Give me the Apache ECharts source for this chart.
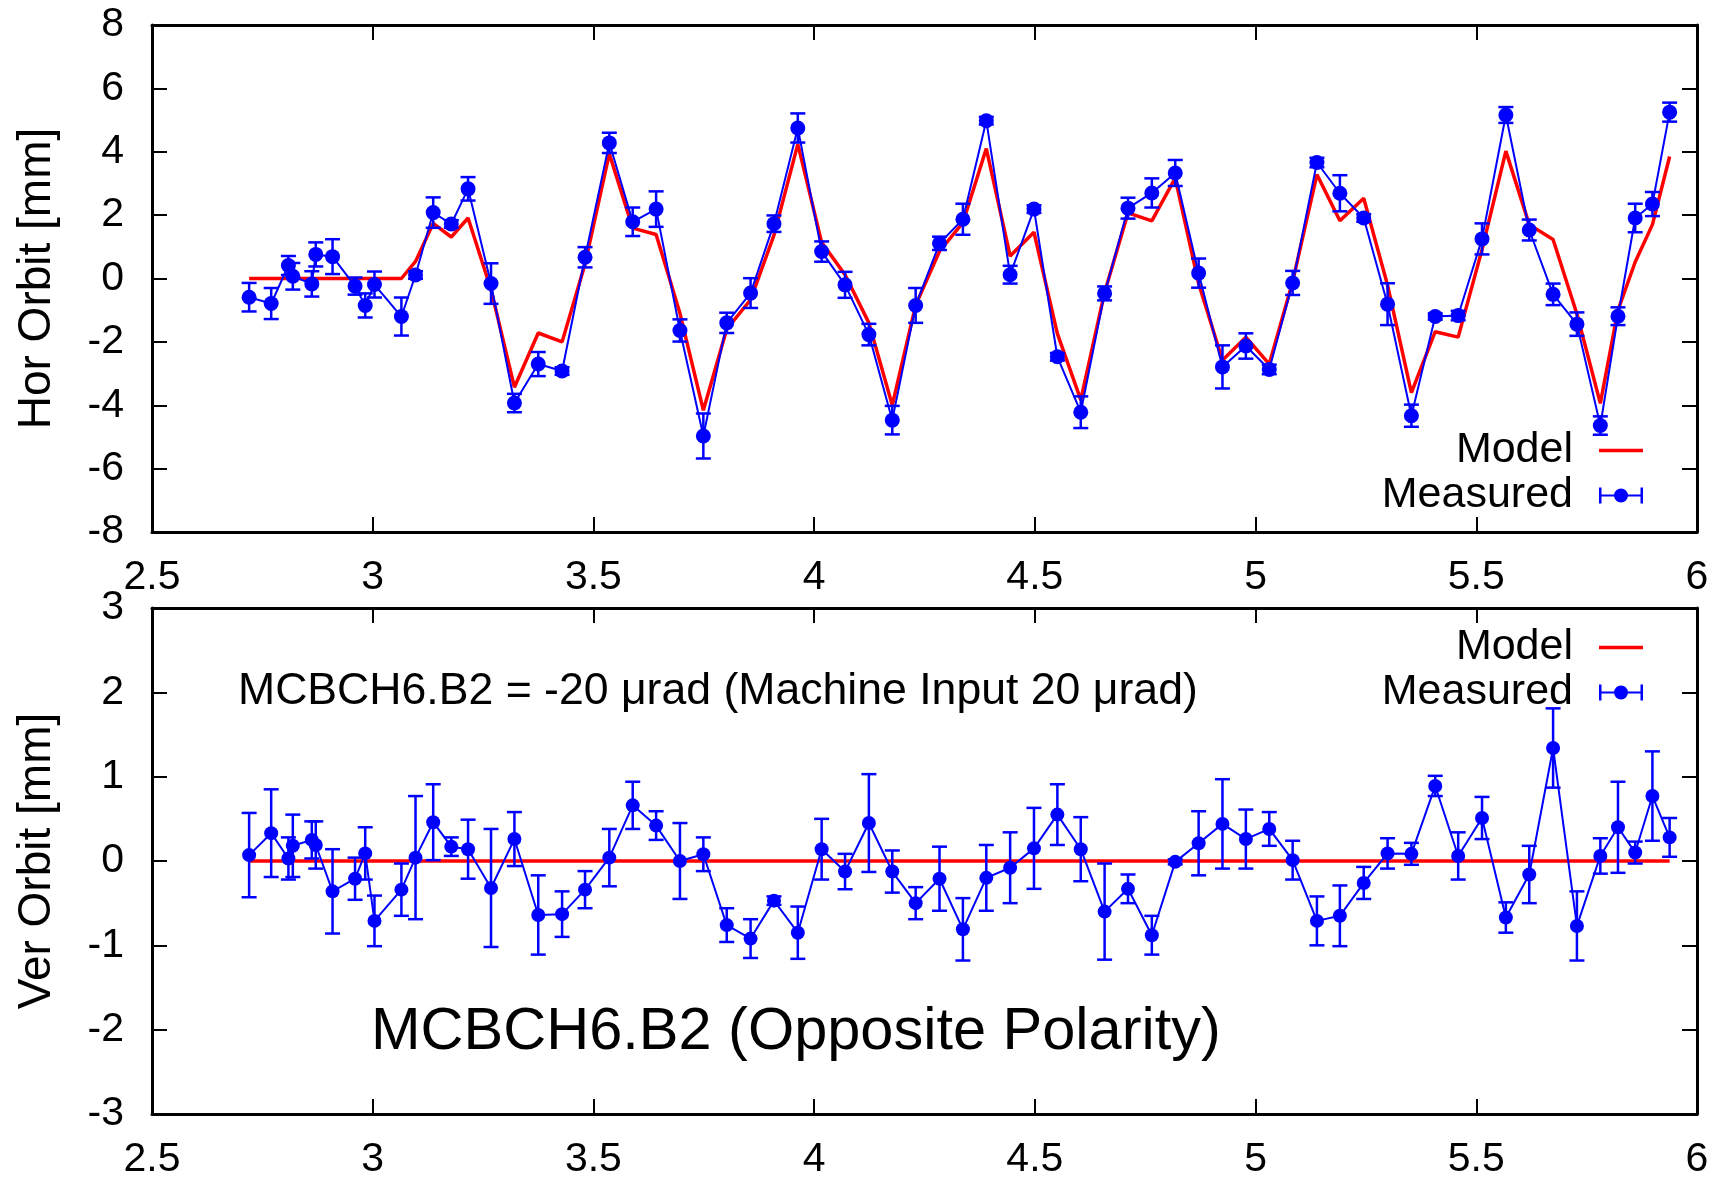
<!DOCTYPE html>
<html><head><meta charset="utf-8">
<script src="https://cdn.jsdelivr.net/npm/echarts@6/dist/echarts.min.js"></script>
<style>html,body{margin:0;padding:0;background:#fff}#c{width:1725px;height:1180px}</style>
</head><body><div id="c"></div>
<script>
// ---- data (position in km) ----
const positions = [2.720,2.770,2.809,2.819,2.862,2.871,2.909,2.960,2.983,3.004,3.065,3.097,3.137,3.178,3.216,3.268,3.321,3.375,3.429,3.481,3.536,3.589,3.642,3.696,3.749,3.802,3.856,3.909,3.963,4.017,4.070,4.124,4.177,4.230,4.284,4.337,4.390,4.444,4.498,4.551,4.604,4.658,4.711,4.765,4.818,4.871,4.925,4.978,5.031,5.084,5.139,5.191,5.245,5.299,5.353,5.407,5.459,5.513,5.567,5.620,5.674,5.728,5.781,5.821,5.860,5.899,5.938];
const horMeasured = [-0.59,-0.79,0.41,0.07,-0.17,0.76,0.69,-0.24,-0.85,-0.19,-1.20,0.11,2.08,1.72,2.83,-0.16,-3.93,-2.70,-2.92,0.67,4.28,1.79,2.19,-1.64,-4.97,-1.40,-0.46,1.73,4.75,0.85,-0.20,-1.77,-4.47,-0.85,1.11,1.87,4.98,0.12,2.19,-2.47,-4.22,-0.47,2.22,2.70,3.33,0.17,-2.79,-2.13,-2.87,-0.14,3.66,2.69,1.91,-0.81,-4.33,-1.20,-1.17,1.25,5.16,1.53,-0.50,-1.44,-4.64,-1.19,1.91,2.35,5.25];
const horError = [0.45,0.49,0.30,0.42,0.40,0.38,0.55,0.27,0.38,0.41,0.60,0.12,0.48,0.12,0.37,0.64,0.29,0.38,0.12,0.32,0.32,0.45,0.56,0.35,0.71,0.32,0.47,0.26,0.46,0.32,0.41,0.34,0.45,0.55,0.21,0.49,0.12,0.28,0.12,0.12,0.50,0.22,0.33,0.46,0.41,0.46,0.68,0.40,0.15,0.38,0.15,0.57,0.12,0.66,0.35,0.10,0.15,0.49,0.25,0.33,0.34,0.37,0.29,0.28,0.45,0.38,0.30];
const horModel = [0,0,0,0,0,0,0,0,0,0,0,0.54,1.74,1.31,1.91,-0.35,-3.43,-1.72,-2.00,0.46,3.94,1.59,1.39,-1.10,-4.16,-1.60,-0.67,1.37,4.24,1.14,0.12,-1.40,-4.00,-0.84,0.86,1.76,4.10,0.71,1.46,-1.74,-3.83,-0.44,2.07,1.82,3.17,-0.16,-2.58,-1.85,-2.70,-0.10,3.28,1.82,2.53,-0.21,-3.60,-1.68,-1.85,0.91,4.02,1.70,1.23,-1.12,-3.94,-1.00,0.52,1.70,3.85];
const verMeasured = [0.07,0.33,0.03,0.18,0.25,0.19,-0.36,-0.21,0.09,-0.71,-0.34,0.04,0.46,0.17,0.14,-0.32,0.26,-0.64,-0.63,-0.34,0.04,0.66,0.42,0.00,0.08,-0.76,-0.92,-0.47,-0.85,0.14,-0.125,0.45,-0.125,-0.50,-0.21,-0.81,-0.20,-0.08,0.15,0.55,0.14,-0.60,-0.33,-0.88,-0.01,0.21,0.44,0.26,0.38,0.01,-0.71,-0.65,-0.26,0.09,0.085,0.89,0.06,0.51,-0.67,-0.16,1.34,-0.77,0.06,0.40,0.10,0.77,0.28];
const verError = [0.50,0.52,0.25,0.37,0.22,0.28,0.50,0.25,0.31,0.30,0.31,0.73,0.45,0.11,0.35,0.70,0.32,0.47,0.27,0.22,0.34,0.28,0.17,0.45,0.20,0.20,0.23,0.05,0.31,0.36,0.21,0.58,0.25,0.19,0.38,0.37,0.39,0.42,0.48,0.36,0.38,0.57,0.17,0.23,0.03,0.38,0.53,0.35,0.20,0.23,0.29,0.36,0.19,0.18,0.13,0.12,0.28,0.25,0.18,0.34,0.47,0.41,0.21,0.54,0.13,0.53,0.23];
const verModel = [0,0,0,0,0,0,0,0,0,0,0,0,0,0,0,0,0,0,0,0,0,0,0,0,0,0,0,0,0,0,0,0,0,0,0,0,0,0,0,0,0,0,0,0,0,0,0,0,0,0,0,0,0,0,0,0,0,0,0,0,0,0,0,0,0,0,0];
const xRange = {min: 2.5, max: 6, step: 0.5};
const horRange = {min: -8, max: 8, step: 2};
const verRange = {min: -3, max: 3, step: 1};
const legendNames = ['Model', 'Measured'];
const horTitle = 'Hor Orbit [mm]';
const verTitle = 'Ver Orbit [mm]';
const noteText = 'MCBCH6.B2 = -20 \u03bcrad (Machine Input 20 \u03bcrad)';
const bigText = 'MCBCH6.B2 (Opposite Polarity)';

// ---- build ----
const FONT = '"Liberation Sans", Arial, Helvetica, sans-serif';
const BLUE = '#0000ff', RED = '#ff0000';
const zip = (xs, ys) => xs.map((x, i) => [x, ys[i]]);
const errData = (xs, ys, es) => xs.map((x, i) => [x, ys[i] - es[i], ys[i] + es[i]]);

const chart = echarts.init(document.getElementById('c'), null, {renderer: 'canvas'});

function axisCommon(r) {
  return {
    type: 'value', min: r.min, max: r.max, interval: r.step,
    axisLine: {show: true, onZero: false, lineStyle: {color: '#000', width: 3}},
    axisTick: {show: true, inside: true, length: 15, lineStyle: {color: '#000', width: 2}},
    splitLine: {show: false}
  };
}
const labelStyle = {fontSize: 41, color: '#000', fontFamily: FONT, lineHeight: 41};

const xAxes = [], yAxes = [];
[0, 1].forEach(g => {
  xAxes.push(Object.assign(axisCommon(xRange), {gridIndex: g, position: 'bottom',
    axisLabel: Object.assign({show: true, margin: 25, showMinLabel: true, showMaxLabel: true, hideOverlap: false}, labelStyle)}));
  xAxes.push(Object.assign(axisCommon(xRange), {gridIndex: g, position: 'top', axisLabel: {show: false}}));
});
[[0, horRange, horTitle], [1, verRange, verTitle]].forEach(([g, r, t]) => {
  yAxes.push(Object.assign(axisCommon(r), {gridIndex: g, position: 'left',
    name: t, nameLocation: 'middle', nameGap: 92,
    nameTextStyle: {fontSize: 46, color: '#000', fontFamily: FONT, lineHeight: 46},
    axisLabel: Object.assign({show: true, margin: 28, showMinLabel: true, showMaxLabel: true, hideOverlap: false}, labelStyle)}));
  yAxes.push(Object.assign(axisCommon(r), {gridIndex: g, position: 'right', axisLabel: {show: false}}));
});

function renderErr(params, api) {
  const x = api.value(0), lo = api.value(1), hi = api.value(2);
  const p1 = api.coord([x, lo]), p2 = api.coord([x, hi]);
  const hw = 7.5;
  const style = {stroke: BLUE, lineWidth: 2.5, fill: null};
  return {type: 'group', children: [
    {type: 'line', shape: {x1: p1[0], y1: p1[1], x2: p2[0], y2: p2[1]}, style: style},
    {type: 'line', shape: {x1: p1[0] - hw, y1: p1[1], x2: p1[0] + hw, y2: p1[1]}, style: style},
    {type: 'line', shape: {x1: p2[0] - hw, y1: p2[1], x2: p2[0] + hw, y2: p2[1]}, style: style}
  ]};
}

function plotSeries(g, model, meas, err, dot) {
  return [
    {name: legendNames[0], type: 'line', xAxisIndex: 2 * g, yAxisIndex: 2 * g,
      data: zip(positions, model), symbol: 'none', itemStyle: {color: RED},
      lineStyle: {color: RED, width: 3.5}, z: 3},
    {name: legendNames[1], type: 'line', xAxisIndex: 2 * g, yAxisIndex: 2 * g,
      data: zip(positions, meas), symbol: 'circle', symbolSize: dot, showSymbol: true,
      itemStyle: {color: BLUE, borderWidth: 0}, lineStyle: {color: BLUE, width: 2}, z: 4},
    {name: 'Measured error', type: 'custom', xAxisIndex: 2 * g, yAxisIndex: 2 * g,
      data: errData(positions, meas, err), renderItem: renderErr,
      encode: {x: 0, y: [1, 2]}, z: 4}
  ];
}

const modelIcon = 'path://M0,0h44v3.5h-44z';
const measIcon = 'path://M0,0h2.5v16h-2.5z M41.5,0h2.5v16h-2.5z M0,7h44v2h-44z M15,8a7,7 0 1,1 14,0a7,7 0 1,1 -14,0z';
function legendAt(top) {
  return {top: top, right: 82, orient: 'vertical', align: 'right', padding: 0, itemGap: 0,
    itemWidth: 44, itemHeight: 16, selectedMode: false,
    textStyle: {fontSize: 43, fontFamily: FONT, color: '#000', lineHeight: 42, padding: [3, 21, 0, 0]},
    data: [{name: legendNames[0], icon: modelIcon}, {name: legendNames[1], icon: measIcon}]};
}

chart.setOption({
  animation: false,
  backgroundColor: '#fff',
  grid: [
    {left: 152, top: 25, width: 1545, height: 507, containLabel: false, outerBoundsMode: 'none'},
    {left: 152, top: 608, width: 1545, height: 506, containLabel: false, outerBoundsMode: 'none'}
  ],
  xAxis: xAxes,
  yAxis: yAxes,
  legend: [legendAt(428), legendAt(625)],
  graphic: [
    {type: 'text', left: 238, top: 669, silent: true,
      style: {text: noteText, fontSize: 44.6, fontFamily: FONT, fill: '#000', lineHeight: 45}},
    {type: 'text', left: 371, top: 1003, silent: true,
      style: {text: bigText, fontSize: 59.5, fontFamily: FONT, fill: '#000', lineHeight: 60}}
  ],
  series: [].concat(
    plotSeries(0, horModel, horMeasured, horError, 15),
    plotSeries(1, verModel, verMeasured, verError, 14)
  )
});
</script></body></html>
